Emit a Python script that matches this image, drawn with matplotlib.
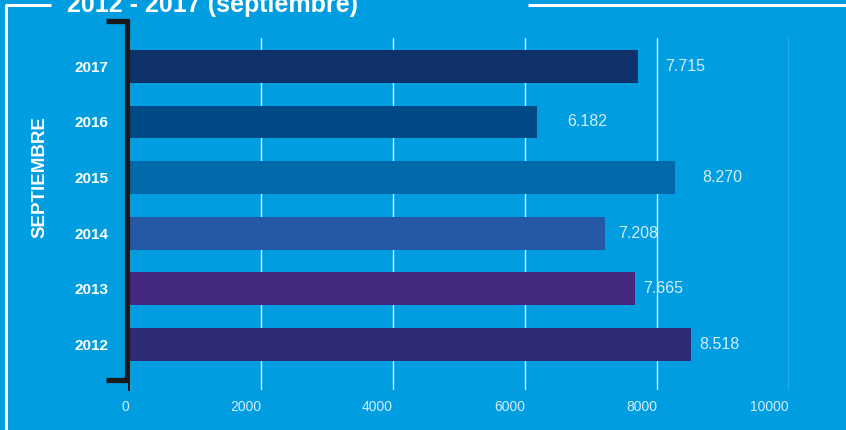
import matplotlib
matplotlib.use("Agg")
import matplotlib.pyplot as plt
from matplotlib.lines import Line2D

years = ["2012", "2013", "2014", "2015", "2016", "2017"]
values = [8518, 7665, 7208, 8270, 6182, 7715]
value_labels = ["8.518", "7.665", "7.208", "8.270", "6.182", "7.715"]
bar_colors = ["#2f2c77", "#44277f", "#2558a5", "#006aab", "#004a86", "#10326b"]
x_ticks = [0, 2000, 4000, 6000, 8000, 10000]

title = "2012 - 2017 (septiembre)"
side_label = "SEPTIEMBRE"

BG = "#009ee0"
LIGHT = "#d2edfb"
W, H = 846, 430

plt.rcParams["font.family"] = ["Liberation Sans", "DejaVu Sans"]

fig = plt.figure(figsize=(W / 100, H / 100), dpi=100)
fig.patch.set_facecolor(BG)


def fx(px):
    return px / W


def fy(py):
    return 1 - py / H


ax = fig.add_axes([fx(129), fy(390), fx(789) - fx(129), fy(38) - fy(390)])
ax.set_facecolor(BG)

pos = list(range(len(years)))
ax.barh(pos, values, height=0.59, color=bar_colors, zorder=3)

# label offsets in pixels from bar end (as in the original layout)
label_pad = [8, 8, 13, 27, 30, 27]
for p, v, lab, pad in zip(pos, values, value_labels, label_pad):
    ax.annotate(lab, (v, p), xytext=(pad * 0.72, 0), textcoords="offset points",
                va="center", ha="left", color=LIGHT, fontsize=11.5, zorder=4)

ax.set_xlim(0, 10000)
ax.set_ylim(-0.82, 5.51)
ax.set_xticks(x_ticks)
ax.set_xticklabels([str(t) for t in x_ticks], ha="right", color=LIGHT, fontsize=10)
ax.set_yticks(pos)
ax.set_yticklabels(years, color="white", fontsize=11, fontweight="bold")
ax.tick_params(axis="x", length=0, pad=7)
ax.tick_params(axis="y", length=0, pad=15)
ax.xaxis.grid(True, color="#d5eefa", linewidth=1, zorder=0)
ax.set_axisbelow(True)
for s in ["top", "right", "bottom"]:
    ax.spines[s].set_visible(False)
ax.spines["left"].set_color("#1a1a1a")
ax.spines["left"].set_linewidth(1.5)
ax.spines["left"].set_zorder(5)

# black bracket
bk = dict(color="#1a1a1a", linewidth=3.8, solid_capstyle="butt", transform=fig.transFigure)
fig.add_artist(Line2D([fx(127), fx(127)], [fy(19), fy(382)], **bk))
fig.add_artist(Line2D([fx(106), fx(129)], [fy(21), fy(21)], **bk))
fig.add_artist(Line2D([fx(106), fx(129)], [fy(379.5), fy(379.5)], **bk))

# white frame
fr = dict(color="white", linewidth=2.2, solid_capstyle="butt", transform=fig.transFigure)
fig.add_artist(Line2D([fx(6), fx(6)], [fy(4.5), fy(H)], **fr))
fig.add_artist(Line2D([fx(5), fx(51)], [fy(4.5), fy(4.5)], **fr))
fig.add_artist(Line2D([fx(528), fx(W)], [fy(4.5), fy(4.5)], **fr))

fig.text(fx(67), fy(12), title, color="white", fontsize=18, fontweight="bold",
         ha="left", va="baseline")
fig.text(fx(40), fy(177), side_label, color="white", fontsize=13.5, fontweight="bold",
         rotation=90, ha="center", va="center")

fig.savefig("out.png", dpi=100, facecolor=BG)
